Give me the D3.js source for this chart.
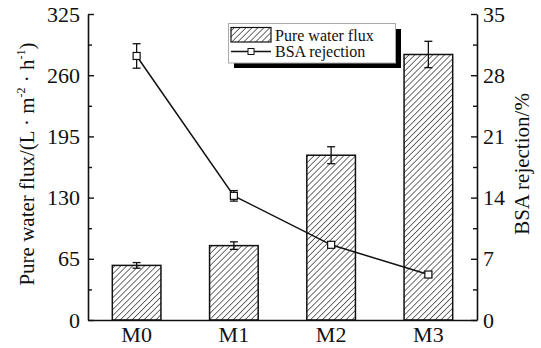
<!DOCTYPE html>
<html>
<head>
<meta charset="utf-8">
<script src="https://cdn.jsdelivr.net/npm/d3@7/dist/d3.min.js"></script>
<style>
  html, body { margin: 0; padding: 0; background: #fff; }
  svg, svg text { font-family: "Liberation Serif", "Times New Roman", serif !important; }
</style>
</head>
<body>
<svg id="chart" width="541" height="348"></svg>
<script>
// Membrane samples
const samples = ["M0", "M1", "M2", "M3"];
// Pure water flux, L·m^-2·h^-1, with error
const fluxValues = [58, 79, 175, 282];
const fluxErrors = [3, 4, 9, 14];
// BSA rejection, %, with error
const rejectionValues = [30.2, 14.2, 8.6, 5.2];
const rejectionErrors = [1.4, 0.6, 0.3, 0.3];
// Axis ticks
const fluxTicks = [0, 65, 130, 195, 260, 325];
const rejectionTicks = [0, 7, 14, 21, 28, 35];

const svg = d3.select("#chart");
const m = { left: 88, right: 477, top: 14, bottom: 320 };

const x = d3.scaleBand().domain(samples).range([m.left, m.right]).paddingInner(0.5).paddingOuter(0.25);
const yL = d3.scaleLinear().domain([0, 325]).range([m.bottom, m.top]);
const yR = d3.scaleLinear().domain([0, 35]).range([m.bottom, m.top]);

// Diagonal hatch pattern for the bars
const defs = svg.append("defs");
const pat = defs.append("pattern")
  .attr("id", "hatch").attr("patternUnits", "userSpaceOnUse")
  .attr("width", 4.2).attr("height", 4.2)
  .attr("patternTransform", "rotate(45)");
pat.append("rect").attr("width", 4.2).attr("height", 4.2).attr("fill", "#fff");
pat.append("line").attr("x1", 0).attr("y1", 0).attr("x2", 0).attr("y2", 4.2)
  .attr("stroke", "#222").attr("stroke-width", 1.3);

// Bars
svg.append("g").selectAll("rect").data(samples).join("rect")
  .attr("x", d => x(d)).attr("width", x.bandwidth())
  .attr("y", (d, i) => yL(fluxValues[i]))
  .attr("height", (d, i) => yL(0) - yL(fluxValues[i]))
  .attr("fill", "url(#hatch)").attr("stroke", "#111").attr("stroke-width", 1.5);

// Error bars with caps
function errorBars(g, cx, lo, hi, cap) {
  g.append("line").attr("x1", cx).attr("x2", cx).attr("y1", lo).attr("y2", hi)
    .attr("stroke", "#111").attr("stroke-width", 1.3);
  [lo, hi].forEach(yy => g.append("line").attr("x1", cx - cap).attr("x2", cx + cap)
    .attr("y1", yy).attr("y2", yy).attr("stroke", "#111").attr("stroke-width", 1.3));
}
const gErr = svg.append("g");
const cxOf = s => x(s) + x.bandwidth() / 2;
samples.forEach((s, i) => {
  errorBars(gErr, cxOf(s), yL(fluxValues[i] - fluxErrors[i]), yL(fluxValues[i] + fluxErrors[i]), 4);
});

// Rejection line with square markers
const line = d3.line().x((d, i) => cxOf(samples[i])).y(d => yR(d));
svg.append("path").datum(rejectionValues).attr("d", line)
  .attr("fill", "none").attr("stroke", "#111").attr("stroke-width", 1.5);
const gErr2 = svg.append("g");
samples.forEach((s, i) => {
  errorBars(gErr2, cxOf(s), yR(rejectionValues[i] - rejectionErrors[i]), yR(rejectionValues[i] + rejectionErrors[i]), 4);
});
svg.append("g").selectAll("rect").data(rejectionValues).join("rect")
  .attr("x", (d, i) => cxOf(samples[i]) - 3.5).attr("y", d => yR(d) - 3.5)
  .attr("width", 7).attr("height", 7)
  .attr("fill", "#fff").attr("stroke", "#111").attr("stroke-width", 1.2);

// Axes
const axisColor = "#111";
function styleAxis(g, size) {
  g.attr("font-family", null);
  g.select(".domain").attr("stroke", axisColor).attr("stroke-width", 1.6);
  g.selectAll(".tick line").attr("stroke", axisColor).attr("stroke-width", 1.4);
  g.selectAll(".tick text").attr("fill", "#111").attr("font-size", size);
}
const gL = svg.append("g").attr("transform", `translate(${m.left},0)`)
  .call(d3.axisLeft(yL).tickValues(fluxTicks).tickSize(-6).tickPadding(8).tickSizeOuter(0));
styleAxis(gL, 22);
const gLm = svg.append("g").attr("transform", `translate(${m.left},0)`)
  .call(d3.axisLeft(yL).tickValues(fluxTicks.slice(0, -1).map(v => v + 32.5)).tickSize(-4).tickFormat(""));
gLm.select(".domain").remove();
gLm.selectAll(".tick line").attr("stroke", axisColor).attr("stroke-width", 1.4);

const gR = svg.append("g").attr("transform", `translate(${m.right},0)`)
  .call(d3.axisRight(yR).tickValues(rejectionTicks).tickSize(-6).tickPadding(6).tickSizeOuter(0));
styleAxis(gR, 22);
const gRm = svg.append("g").attr("transform", `translate(${m.right},0)`)
  .call(d3.axisRight(yR).tickValues(rejectionTicks.slice(0, -1).map(v => v + 3.5)).tickSize(-4).tickFormat(""));
gRm.select(".domain").remove();
gRm.selectAll(".tick line").attr("stroke", axisColor).attr("stroke-width", 1.4);

const gB = svg.append("g").attr("transform", `translate(0,${m.bottom})`)
  .call(d3.axisBottom(x).tickSize(0).tickPadding(6).tickSizeOuter(0));
styleAxis(gB, 22);

// Axis titles
const tL = svg.append("text")
  .attr("transform", `translate(34,${(m.top + m.bottom) / 2 - 3}) rotate(-90)`)
  .attr("text-anchor", "middle").attr("font-size", 21).attr("fill", "#111");
tL.append("tspan").text("Pure water flux/(L · m");
tL.append("tspan").attr("font-size", 12).attr("dy", -9).text("-2");
tL.append("tspan").attr("dy", 9).text(" · h");
tL.append("tspan").attr("font-size", 12).attr("dy", -9).text("-1");
tL.append("tspan").attr("dy", 9).text(")");

svg.append("text")
  .attr("transform", `translate(529,164) rotate(-90)`)
  .attr("text-anchor", "middle").attr("font-size", 21).attr("fill", "#111")
  .text("BSA rejection/%");

// Legend with drop shadow
const lg = svg.append("g");
lg.append("rect").attr("x", 234).attr("y", 29).attr("width", 167).attr("height", 39).attr("fill", "#000");
lg.append("rect").attr("x", 228.5).attr("y", 23.5).attr("width", 167).attr("height", 39.5)
  .attr("fill", "#fff").attr("stroke", "#aaa").attr("stroke-width", 1);
lg.append("rect").attr("x", 231).attr("y", 27.5).attr("width", 40).attr("height", 14.5)
  .attr("fill", "url(#hatch)").attr("stroke", "#111").attr("stroke-width", 1.2);
lg.append("line").attr("x1", 231).attr("x2", 271).attr("y1", 51.5).attr("y2", 51.5)
  .attr("stroke", "#111").attr("stroke-width", 1.3);
lg.append("rect").attr("x", 248).attr("y", 48.5).attr("width", 6).attr("height", 6)
  .attr("fill", "#fff").attr("stroke", "#111").attr("stroke-width", 1);
lg.append("text").attr("x", 275).attr("y", 40.5).attr("font-size", 16).attr("fill", "#111").text("Pure water flux");
lg.append("text").attr("x", 275).attr("y", 57).attr("font-size", 16).attr("fill", "#111").text("BSA rejection");
</script>
</body>
</html>
